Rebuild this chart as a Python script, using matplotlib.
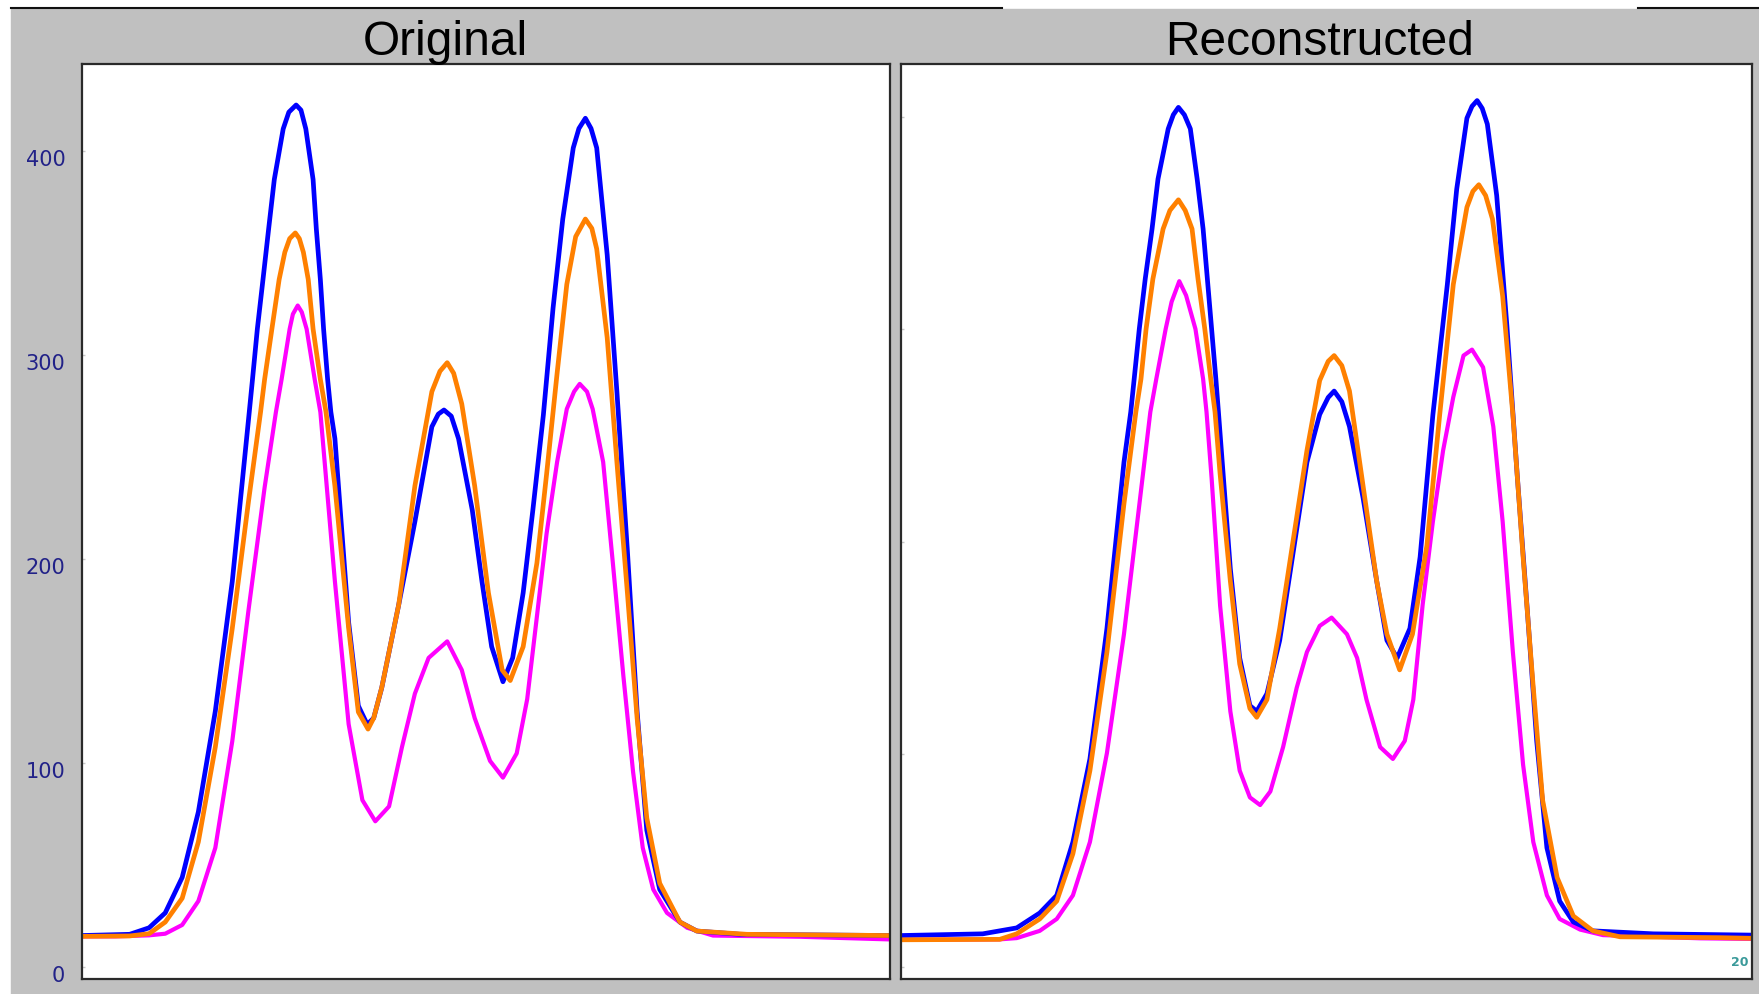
import matplotlib
matplotlib.use("Agg")
import matplotlib.pyplot as plt
from matplotlib.patches import Rectangle
from matplotlib.transforms import ScaledTranslation

# -------------------------------------------------------
# Data (x = position across the panel, 0..100)
# -------------------------------------------------------

# Original panel
orig_blue_x = [0.0, 5.9, 8.3, 10.3, 12.4, 14.4, 16.5, 18.6, 20.7, 21.1, 21.7, 22.4, 23.1, 23.8,
               24.9, 25.6, 26.5, 27.1, 27.7, 28.6, 29.0, 29.5, 29.9, 30.4, 30.8, 31.3, 33.0,
               34.2, 35.3, 36.1, 37.1, 39.2, 41.2, 43.3, 44.1, 44.8, 45.7, 46.6, 48.3, 49.5,
               50.7, 52.1, 53.3, 54.6, 55.8, 57.1, 58.3, 59.5, 60.8, 61.5, 62.3, 63.0, 63.7,
               65.0, 66.2, 67.5, 68.7, 69.9, 71.5, 74.0, 76.1, 81.4, 100.0]
orig_blue_y = [15.4, 16.0, 19.2, 26.5, 43.9, 76.0, 125.4, 189.0, 272.0, 288.0, 312.7, 337.0, 361.8, 386.0,
               410.8, 419.0, 422.5, 420.0, 410.8, 386.0, 361.8, 337.0, 312.7, 288.0, 272.0, 259.0, 168.9,
               128.0, 118.9, 122.0, 136.9, 177.6, 218.3, 264.8, 271.0, 273.0, 270.0, 259.0, 224.0, 189.0,
               157.0, 139.8, 151.5, 183.4, 224.0, 270.6, 323.0, 366.6, 401.5, 411.0, 416.0, 411.0, 401.5,
               349.0, 282.0, 203.9, 125.3, 67.0, 38.0, 22.0, 17.6, 16.0, 15.4]

orig_orange_x = [0.0, 5.9, 8.3, 10.3, 12.4, 14.4, 16.5, 18.6, 20.6, 22.1, 22.6, 23.5, 24.4, 25.1,
                 25.7, 26.4, 26.9, 27.4, 28.0, 28.6, 29.5, 30.2, 31.3, 33.0, 34.2, 35.4, 36.1,
                 37.1, 39.2, 41.2, 43.3, 44.3, 45.2, 46.0, 47.0, 48.6, 50.3, 52.0, 53.0, 54.6,
                 56.3, 57.5, 58.8, 60.0, 61.1, 62.3, 63.1, 63.7, 65.0, 66.2, 67.5, 68.7, 69.9,
                 71.5, 74.0, 76.1, 82.3, 100.0]
orig_orange_y = [15.0, 15.2, 16.3, 22.0, 33.7, 61.3, 107.8, 166.0, 228.0, 272.0, 288.0, 312.7, 337.0, 350.3,
                 357.0, 359.8, 357.0, 350.3, 337.0, 312.7, 288.0, 272.0, 235.8, 166.0, 125.0, 116.6, 122.0,
                 137.0, 177.6, 235.8, 282.0, 292.0, 296.2, 291.0, 276.0, 235.8, 183.4, 145.6, 140.4, 157.0,
                 198.0, 241.6, 291.0, 334.6, 358.0, 366.6, 362.0, 352.0, 308.4, 247.5, 183.4, 122.0, 73.0,
                 41.0, 22.0, 17.6, 16.0, 15.4]

orig_magenta_x = [0.0, 4.1, 8.3, 10.3, 12.4, 14.4, 16.5, 18.6, 20.6, 22.6, 24.0, 24.7, 25.7, 26.1,
                  26.7, 27.2, 27.8, 28.8, 29.5, 31.3, 33.0, 34.7, 36.3, 38.0, 39.6, 41.2, 42.9,
                  45.2, 47.0, 48.6, 50.5, 52.1, 53.8, 55.1, 56.3, 57.5, 58.8, 60.0, 60.9, 61.6,
                  62.5, 63.2, 64.5, 65.7, 67.0, 68.2, 69.4, 70.7, 72.4, 74.9, 78.1, 88.9, 100.0]
orig_magenta_y = [15.0, 15.0, 15.5, 16.3, 20.6, 32.3, 58.4, 110.7, 174.7, 235.0, 272.0, 288.0, 312.7, 320.0,
                  324.2, 321.0, 312.7, 288.0, 272.0, 189.0, 119.0, 81.8, 71.4, 78.7, 107.8, 134.0, 151.5,
                  159.6, 145.6, 122.0, 101.0, 92.8, 104.7, 131.3, 171.8, 212.5, 247.5, 273.5, 282.0, 285.8,
                  282.0, 273.5, 247.5, 198.0, 142.7, 95.7, 58.4, 38.0, 26.5, 19.2, 15.4, 14.8, 13.5]

# Reconstructed panel
rec_blue_x = [0.0, 9.6, 13.6, 16.3, 18.3, 20.2, 22.2, 24.2, 26.2, 27.0, 27.4, 28.0, 28.7, 29.5,
              30.2, 31.4, 32.0, 32.6, 33.3, 34.0, 34.8, 35.5, 36.0, 36.5, 37.0, 37.3, 38.7,
              39.8, 41.0, 41.8, 43.0, 44.5, 46.1, 47.7, 49.2, 50.2, 50.9, 51.8, 52.7, 54.3,
              55.9, 57.1, 58.3, 59.8, 61.0, 62.5, 64.2, 65.3, 66.5, 67.1, 67.7, 68.3, 68.9,
              70.0, 71.2, 72.4, 73.6, 74.7, 75.9, 77.4, 79.0, 81.3, 88.4, 100.0]
rec_blue_y = [14.8, 15.6, 18.4, 25.4, 33.7, 58.8, 97.9, 159.3, 237.5, 261.2, 276.7, 300.2, 323.8, 347.3,
              370.8, 394.4, 401.0, 404.5, 401.0, 394.4, 370.8, 347.3, 323.8, 300.2, 276.7, 261.2, 187.3,
              145.4, 123.0, 120.3, 128.6, 153.7, 195.6, 237.5, 260.0, 268.0, 271.0, 266.0, 254.3, 220.7,
              181.6, 153.7, 145.4, 159.3, 192.9, 259.8, 321.2, 366.0, 399.4, 405.0, 407.7, 404.0, 396.6,
              363.0, 301.6, 232.0, 167.7, 106.4, 56.1, 31.0, 21.2, 17.0, 15.6, 15.0]

rec_orange_x = [0.0, 11.6, 13.6, 16.3, 18.3, 20.2, 22.2, 24.2, 26.2, 27.6, 28.2, 28.8, 29.6, 30.8,
                31.6, 32.6, 33.4, 34.2, 34.9, 35.7, 36.4, 36.9, 37.5, 38.7, 39.8, 41.0, 41.8,
                43.0, 44.5, 46.1, 47.7, 49.2, 50.2, 50.9, 51.8, 52.7, 54.3, 55.9, 57.1, 58.6,
                60.1, 61.8, 63.3, 64.9, 66.5, 67.2, 67.9, 68.7, 69.5, 70.7, 71.9, 73.1, 74.3,
                75.4, 77.1, 79.0, 81.3, 84.5, 96.2, 100.0]
rec_orange_y = [12.8, 13.0, 15.6, 22.6, 31.0, 53.3, 92.4, 148.2, 218.0, 261.2, 276.7, 300.2, 323.8, 347.3,
                356.0, 361.0, 356.0, 347.3, 323.8, 300.2, 276.7, 261.2, 231.9, 181.6, 142.6, 121.6, 117.5,
                125.8, 159.3, 201.2, 243.0, 276.0, 285.0, 287.7, 283.0, 271.0, 226.3, 181.6, 156.6, 139.8,
                156.6, 198.4, 259.8, 321.2, 357.5, 365.0, 368.1, 363.0, 352.0, 315.7, 259.8, 192.9, 131.4,
                78.4, 42.1, 24.0, 17.0, 14.2, 13.8, 13.5]

rec_magenta_x = [0.0, 11.6, 13.6, 16.3, 18.3, 20.2, 22.2, 24.2, 26.2, 28.1, 29.3, 30.0, 31.1, 31.8,
                 32.7, 33.5, 34.6, 35.5, 35.9, 36.5, 37.5, 38.7, 39.8, 41.0, 42.2, 43.4, 44.9,
                 46.5, 47.7, 49.2, 50.6, 52.4, 53.6, 54.7, 56.3, 57.8, 59.2, 60.2, 61.3, 62.5,
                 63.7, 64.9, 66.1, 67.1, 68.4, 69.6, 70.7, 71.9, 73.1, 74.3, 75.9, 77.4, 79.8,
                 82.5, 93.9, 100.0]
rec_magenta_y = [12.8, 13.0, 13.6, 17.0, 22.6, 33.7, 58.8, 100.7, 156.6, 220.7, 261.2, 276.7, 300.2, 313.0,
                 322.7, 316.0, 300.2, 276.7, 261.2, 230.0, 170.0, 120.3, 92.4, 79.8, 76.2, 82.6, 103.5,
                 131.4, 148.2, 160.5, 164.4, 156.6, 145.4, 125.8, 103.5, 97.9, 106.4, 125.8, 170.5, 209.6,
                 243.0, 268.2, 287.7, 290.5, 282.2, 254.3, 209.6, 148.2, 95.2, 58.8, 33.7, 22.6, 17.6,
                 15.0, 13.5, 13.2]

ytick_values = [0, 100, 200, 300, 400]
panel_titles = ["Original", "Reconstructed"]

BLUE = "#0000ff"
ORANGE = "#ff8000"
MAGENTA = "#ff00ff"
GRAY = "#c0c0c0"

# -------------------------------------------------------
# Figure layout (pixel based, 1759 x 995)
# -------------------------------------------------------
W, H = 1759, 995
fig = plt.figure(figsize=(W / 100, H / 100), dpi=100, facecolor="white")

# gray window background and the top border line
fig.patches.append(Rectangle((11 / W, 0), 1 - 11 / W, 1 - 10 / H,
                             transform=fig.transFigure, color=GRAY, zorder=-10))
fig.add_artist(plt.Line2D([11 / W, 1002 / W], [1 - 9 / H, 1 - 9 / H],
                          transform=fig.transFigure, color="#111111", lw=1.5))
fig.add_artist(plt.Line2D([1638 / W, 1], [1 - 9 / H, 1 - 9 / H],
                          transform=fig.transFigure, color="#111111", lw=1.5))

top_px, bot_px = 65, 980
ax_l = fig.add_axes([82 / W, 1 - bot_px / H, 808 / W, (bot_px - top_px) / H])
ax_r = fig.add_axes([901 / W, 1 - bot_px / H, 851 / W, (bot_px - top_px) / H])


def style_axes(ax, ymin, ymax, labels):
    ax.set_facecolor("white")
    ax.set_xlim(0, 100)
    ax.set_ylim(ymin, ymax)
    ax.set_xticks([])
    ax.set_yticks(ytick_values)
    for sp in ax.spines.values():
        sp.set_color("#2a2a2a")
        sp.set_linewidth(1.6)
    ax.tick_params(axis="y", direction="in", length=2.5, width=1, color="#c8c8c8",
                   pad=12, labelsize=15, labelcolor="#222288")
    if not labels:
        ax.set_yticklabels([])
    else:
        # labels sit a little below their tick marks
        off = ScaledTranslation(0, -6 / 100, fig.dpi_scale_trans)
        for lab in ax.get_yticklabels():
            lab.set_transform(lab.get_transform() + off)


style_axes(ax_l, -5.9, 442.6, True)
style_axes(ax_r, -5.65, 424.9, False)

# curves: magenta under, blue, orange on top
ax_l.plot(orig_magenta_x, orig_magenta_y, color=MAGENTA, lw=3.0, solid_joinstyle="round")
ax_l.plot(orig_blue_x, orig_blue_y, color=BLUE, lw=3.4, solid_joinstyle="round")
ax_l.plot(orig_orange_x, orig_orange_y, color=ORANGE, lw=3.4, solid_joinstyle="round")

ax_r.plot(rec_magenta_x, rec_magenta_y, color=MAGENTA, lw=3.0, solid_joinstyle="round")
ax_r.plot(rec_blue_x, rec_blue_y, color=BLUE, lw=3.4, solid_joinstyle="round")
ax_r.plot(rec_orange_x, rec_orange_y, color=ORANGE, lw=3.4, solid_joinstyle="round")

# panel titles in the gray band
fig.text(445 / W, 1 - 55 / H, panel_titles[0], ha="center", va="baseline",
         fontsize=34.5, family="Liberation Sans", color="black")
fig.text(1320 / W, 1 - 55 / H, panel_titles[1], ha="center", va="baseline",
         fontsize=34.5, family="Liberation Sans", color="black")

# little counter in the bottom right corner
ax_r.text(0.996, 0.012, "20", transform=ax_r.transAxes, ha="right", va="bottom",
          fontsize=9, color="#3a9a9a", fontweight="bold")

fig.savefig("out.png", dpi=100, facecolor=fig.get_facecolor())
